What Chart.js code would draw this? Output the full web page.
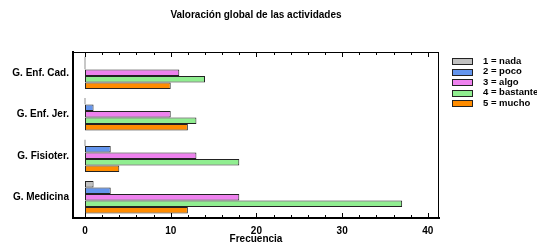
<!DOCTYPE html>
<html>
<head>
<meta charset="utf-8">
<script src="https://cdn.jsdelivr.net/npm/chart.js@4"></script>
<style>
  html, body { margin: 0; padding: 0; background: #fff; }
  #wrap { width: 537px; height: 245px; }
</style>
</head>
<body>
<div id="wrap"><canvas id="grafico" width="537" height="245"></canvas></div>
<script>
// Valoración global de las actividades
const grupos = ['G. Enf. Cad.', 'G. Enf. Jer.', 'G. Fisioter.', 'G. Medicina'];
const nada     = [0, 0, 0, 1];
const poco     = [0, 1, 3, 3];
const algo     = [11, 10, 13, 18];
const bastante = [14, 13, 18, 37];
const mucho    = [10, 12, 4, 12];
const ticksX = [0, 10, 20, 30, 40];

const fuente = 'Arial, "Liberation Sans", sans-serif';

// marco, marcas de los ejes y leyenda
const extras = {
  id: 'extras',
  afterDraw(chart) {
    const c = chart.ctx, a = chart.chartArea, x = chart.scales.x;
    c.save();
    c.strokeStyle = '#000';
    c.lineWidth = 1;
    c.strokeRect(a.left + 0.5, a.top + 0.5, a.right - a.left - 1, a.bottom - a.top);
    for (let v = 0; v <= 40; v += 2) {
      const px = Math.round(x.getPixelForValue(v)) + 0.5;
      const len = v % 10 === 0 ? 5 : 3;
      c.beginPath();
      c.moveTo(px, a.bottom); c.lineTo(px, a.bottom - len);
      c.moveTo(px, a.top); c.lineTo(px, a.top + len);
      c.stroke();
    }
    // leyenda
    c.font = 'bold 9.5px ' + fuente;
    c.textBaseline = 'middle';
    chart.data.datasets.forEach((ds, i) => {
      const y = 61 + i * 10.5;
      c.fillStyle = ds.backgroundColor;
      c.fillRect(452, Math.round(y) - 3, 21, 6);
      c.strokeStyle = '#222';
      c.strokeRect(452.5, Math.round(y) - 2.5, 20, 6);
      c.fillStyle = '#000';
      c.fillText(ds.label, 483, y);
    });
    c.restore();
  }
};

new Chart(document.getElementById('grafico'), {
  type: 'bar',
  data: {
    labels: grupos,
    datasets: [
      { label: '1 = nada', data: nada, backgroundColor: '#c0c0c0' },
      { label: '2 = poco', data: poco, backgroundColor: '#6495ed' },
      { label: '3 = algo', data: algo, backgroundColor: '#ee82ee' },
      { label: '4 = bastante', data: bastante, backgroundColor: '#90ee90' },
      { label: '5 = mucho', data: mucho, backgroundColor: '#ff8c00' }
    ].map(d => Object.assign(d, {
      borderColor: '#222',
      borderWidth: 1,
      borderSkipped: false,
      minBarLength: 1,
      categoryPercentage: 0.78,
      barPercentage: 1.0
    }))
  },
  options: {
    indexAxis: 'y',
    responsive: false,
    animation: false,
    layout: { padding: { left: 0, right: 98, top: 0, bottom: 0 } },
    plugins: {
      legend: { display: false },
      tooltip: { enabled: false },
      title: {
        display: true,
        fullSize: false,
        text: 'Valoración global de las actividades',
        color: '#000',
        font: { family: fuente, size: 10, weight: 'bold' },
        padding: { top: 9, bottom: 31 }
      }
    },
    scales: {
      x: {
        min: -1.4,
        max: 41.3,
        afterBuildTicks: s => { s.ticks = ticksX.map(v => ({ value: v })); },
        afterFit: s => { s.height = 27; },
        grid: { display: false, drawTicks: false },
        border: { color: '#000', width: 2 },
        ticks: { color: '#000', padding: 7, font: { family: fuente, size: 10, weight: 'bold' } },
        title: {
          display: true,
          text: 'Frecuencia',
          color: '#000',
          padding: { top: -1, bottom: 0 },
          font: { family: fuente, size: 10, weight: 'bold' }
        }
      },
      y: {
        afterFit: s => { s.width = 73; },
        grid: { display: false, drawTicks: false },
        border: { color: '#000', width: 2 },
        ticks: { color: '#000', padding: 4, font: { family: fuente, size: 10, weight: 'bold' } }
      }
    }
  },
  plugins: [extras]
});
</script>
</body>
</html>
